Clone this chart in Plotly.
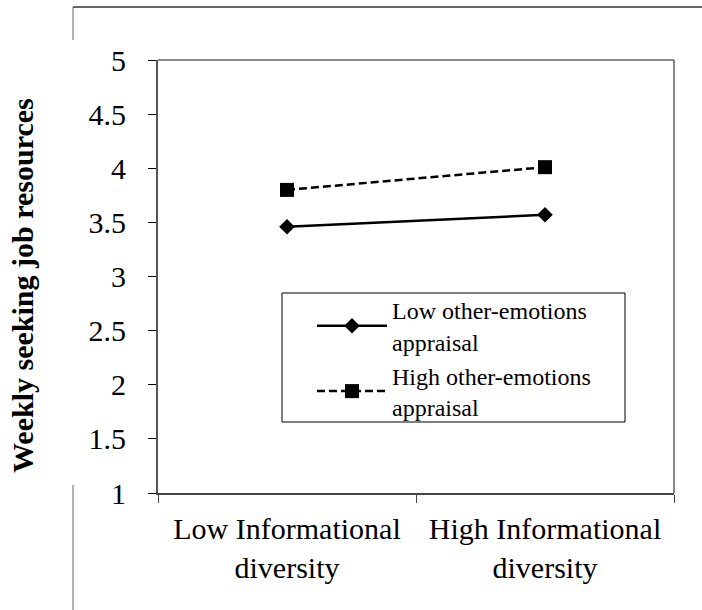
import plotly.graph_objects as go

categories = ["Low Informational<br>diversity", "High Informational<br>diversity"]
low_other = [3.46, 3.57]
high_other = [3.80, 4.01]
series_names = ["Low other-emotions<br>appraisal", "High other-emotions<br>appraisal"]
y_ticks = [1, 1.5, 2, 2.5, 3, 3.5, 4, 4.5, 5]
y_title = "Weekly seeking job resources"

W, H = 702, 610
L, R, T, B = 158, 674, 60, 493

def px(x):
    return (x - L) / (R - L)

def py(y):
    return (B - y) / (B - T)

FONT = "Liberation Serif, Times New Roman, serif"

fig = go.Figure()
fig.add_trace(go.Scatter(
    x=categories, y=low_other, name=series_names[0], mode="lines+markers",
    line=dict(color="black", width=2.5),
    marker=dict(symbol="diamond", size=12, color="black"),
))
fig.add_trace(go.Scatter(
    x=categories, y=high_other, name=series_names[1], mode="lines+markers",
    line=dict(color="black", width=2.5, dash="8px,4px"),
    marker=dict(symbol="square", size=14, color="black"),
))

shapes = [
    # plot area top/right border
    dict(type="line", xref="paper", yref="paper", x0=0, x1=1, y0=1, y1=1,
         line=dict(color="#888888", width=2)),
    dict(type="line", xref="paper", yref="paper", x0=1, x1=1, y0=0, y1=1,
         line=dict(color="#888888", width=2)),
    # outer frame pieces
    dict(type="line", xref="paper", yref="paper", x0=px(73), x1=px(703), y0=py(7), y1=py(7),
         line=dict(color="#333333", width=1.5)),
    dict(type="line", xref="paper", yref="paper", x0=px(73), x1=px(73), y0=py(7), y1=py(40),
         line=dict(color="#666666", width=1)),
    dict(type="line", xref="paper", yref="paper", x0=px(73), x1=px(73), y0=py(485), y1=py(612),
         line=dict(color="#666666", width=1)),
    # legend box
    dict(type="rect", xref="paper", yref="paper", x0=px(282), x1=px(625), y0=py(293), y1=py(422),
         line=dict(color="black", width=1), fillcolor="rgba(0,0,0,0)"),
]

fig.update_layout(
    width=W, height=H,
    margin=dict(l=L, r=W - R, t=T, b=H - B, autoexpand=False),
    paper_bgcolor="white", plot_bgcolor="white",
    font=dict(family=FONT, color="black", size=30),
    showlegend=True,
    legend=dict(
        x=px(312), y=py(288), xanchor="left", yanchor="top",
        bgcolor="rgba(0,0,0,0)", borderwidth=0,
        font=dict(family=FONT, size=24, color="black"),
        itemwidth=70, tracegroupgap=0,
    ),
    shapes=shapes,
    annotations=[dict(
        text="<b>" + y_title + "</b>", xref="paper", yref="paper",
        x=px(22), y=py(286), textangle=-90, showarrow=False,
        font=dict(family=FONT, size=30, color="black"),
        xanchor="center", yanchor="middle",
    )],
)

fig.update_xaxes(
    type="category", range=[-0.5, len(categories) - 0.5],
    showline=True, linecolor="#444444", linewidth=2,
    ticks="outside", tickson="boundaries", ticklen=8, tickcolor="#444444", tickwidth=1,
    showgrid=False, zeroline=False, automargin=False, ticklabelstandoff=8,
    tickfont=dict(family=FONT, size=30, color="black"),
)
fig.update_yaxes(
    range=[1, 5], tickvals=y_ticks, ticktext=[f"{v:g}" for v in y_ticks],
    showline=True, linecolor="#555555", linewidth=2,
    ticks="outside", ticklen=8, tickcolor="black", tickwidth=1,
    showgrid=False, zeroline=False, ticklabelstandoff=16, automargin=False,
    tickfont=dict(family=FONT, size=30, color="black"),
)

fig.write_html("out.html")
